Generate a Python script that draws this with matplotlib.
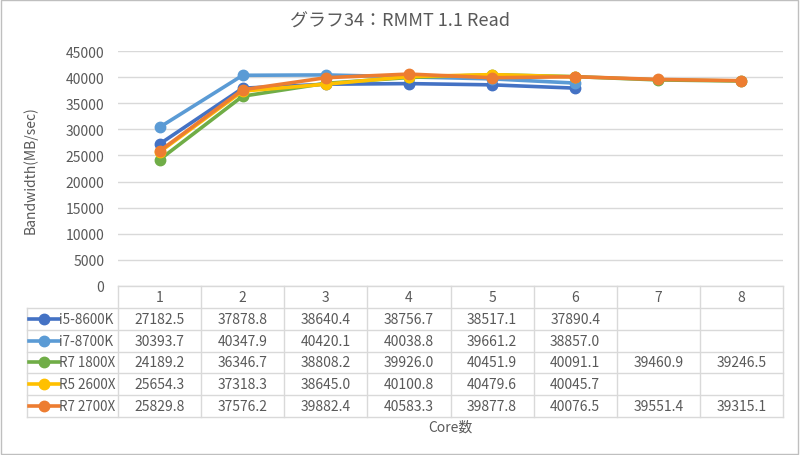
import matplotlib
matplotlib.use('Agg')
import matplotlib.pyplot as plt
import numpy as np

cores = [1, 2, 3, 4, 5, 6, 7, 8]
names = ['i5-8600K', 'i7-8700K', 'R7 1800X', 'R5 2600X', 'R7 2700X']
i5_8600k = [27182.5, 37878.8, 38640.4, 38756.7, 38517.1, 37890.4, np.nan, np.nan]
i7_8700k = [30393.7, 40347.9, 40420.1, 40038.8, 39661.2, 38857.0, np.nan, np.nan]
r7_1800x = [24189.2, 36346.7, 38808.2, 39926.0, 40451.9, 40091.1, 39460.9, 39246.5]
r5_2600x = [25654.3, 37318.3, 38645.0, 40100.8, 40479.6, 40045.7, np.nan, np.nan]
r7_2700x = [25829.8, 37576.2, 39882.4, 40583.3, 39877.8, 40076.5, 39551.4, 39315.1]
series = [i5_8600k, i7_8700k, r7_1800x, r5_2600x, r7_2700x]
colors = ['#4472C4', '#5B9BD5', '#70AD47', '#FFC000', '#ED7D31']
yticks = list(range(0, 45001, 5000))

plt.rcParams['font.family'] = ['Noto Sans CJK JP', 'DejaVu Sans']
txt = '#595959'
grid = '#D9D9D9'

W, H = 800, 456
fig = plt.figure(figsize=(W/100, H/100), dpi=100)

def px(l, t, r, b):
    return [l/W, 1-b/H, (r-l)/W, (b-t)/H]

# main plot
ax = fig.add_axes(px(118, 52, 783, 287))
for s, c in zip(series, colors):
    ax.plot(cores, s, '-o', color=c, lw=2.6, ms=7.5, zorder=3)
ax.set_xlim(0.5, 8.5)
ax.set_ylim(0, 45000)
ax.set_yticks(yticks)
ax.set_yticklabels([str(v) for v in yticks], color=txt, fontsize=10)
ax.yaxis.grid(True, color=grid, lw=1)
ax.set_xticks([])
ax.tick_params(axis='y', length=0, pad=10)
for sp in ax.spines.values():
    sp.set_visible(False)

# data table below
xl = 0.5 - (118-27)/((783-118)/8)
tax = fig.add_axes(px(27, 287, 783, 418))
tax.set_xlim(xl, 8.5)
tax.set_ylim(6, 0)
tax.axis('off')
kw = dict(color=grid, lw=1, clip_on=False)
tax.plot([0.5, 8.5], [0, 0], **kw)
for r in range(1, 7):
    tax.plot([xl, 8.5], [r, r], **kw)
for xv in np.arange(0.5, 9.0, 1.0):
    tax.plot([xv, xv], [0, 6], **kw)
tax.plot([xl, xl], [1, 6], **kw)
for c in cores:
    tax.text(c, 0.5, str(c), ha='center', va='center', color=txt, fontsize=10)
for i, (nm, s, col) in enumerate(zip(names, series, colors)):
    y = i + 1.5
    tax.plot([xl+0.03, xl+0.38], [y, y], color=col, lw=2.6, clip_on=False)
    tax.plot([xl+0.205], [y], 'o', color=col, ms=7.5, clip_on=False)
    tax.text(xl+0.39, y, nm, ha='left', va='center', color=txt, fontsize=9.7)
    for c, v in zip(cores, s):
        if not np.isnan(v):
            tax.text(c, y, f'{v:.1f}', ha='center', va='center', color=txt, fontsize=10)

fig.text(400/W, 1-22/H, 'グラフ34：RMMT 1.1 Read', ha='center', va='center', color=txt, fontsize=13)
fig.text(450/W, 1-428/H, 'Core数', ha='center', va='center', color=txt, fontsize=10)
fig.text(30/W, 1-170/H, 'Bandwidth(MB/sec)', ha='center', va='center', rotation=90, color=txt, fontsize=10)

fig.patches.append(plt.Rectangle((0.001, 0.002), 0.997, 0.996, transform=fig.transFigure,
                                 fill=False, edgecolor='#BFBFBF', lw=1))
fig.savefig('out.png', dpi=100)
